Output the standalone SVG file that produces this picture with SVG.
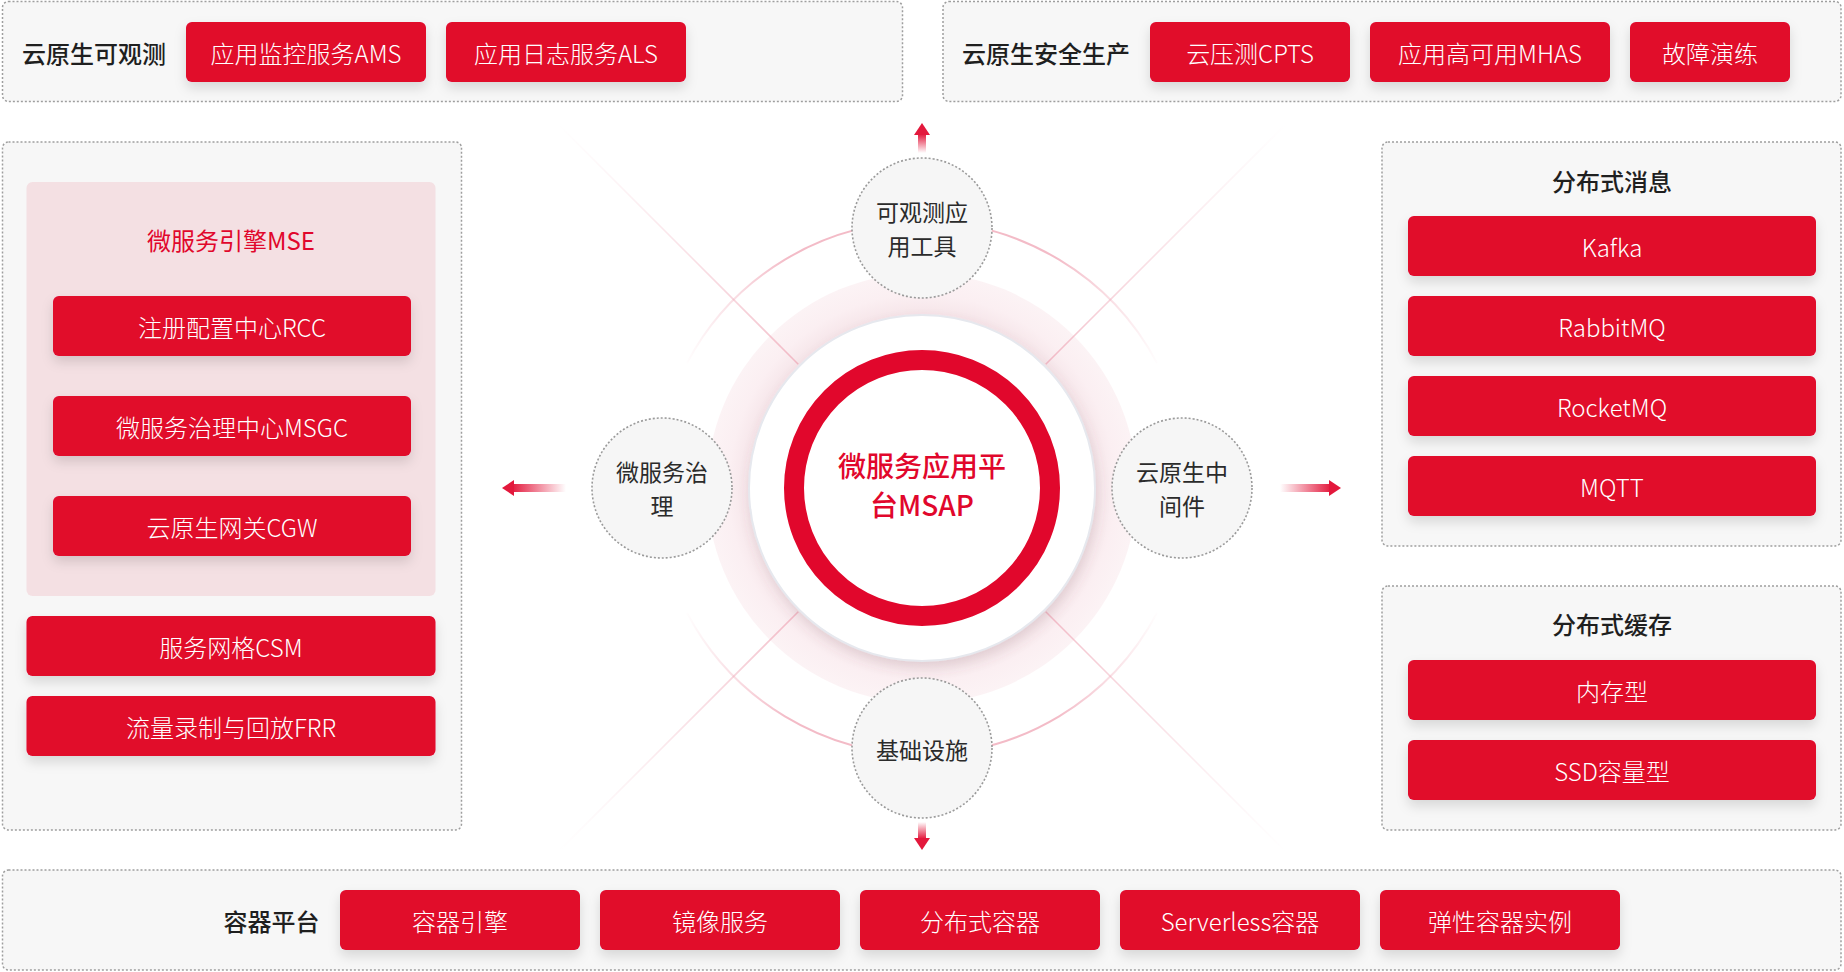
<svg xmlns="http://www.w3.org/2000/svg" width="1844" height="972" viewBox="0 0 1844 972">
<style>
text{font-family:"Noto Sans CJK SC","Noto Sans",sans-serif;dominant-baseline:central}
.box{fill:#f7f7f7;stroke:#9e9e9e;stroke-width:1.5;stroke-dasharray:2 2}
.btn{fill:#e1072c;filter:url(#sh)}
.bt{fill:#fff;font-size:24px;font-weight:300;text-anchor:middle}
.lbl{fill:#1f1f1f;font-size:24px;font-weight:500}
.ttl{fill:#1f1f1f;font-size:24px;font-weight:500;text-anchor:middle}
.sat{fill:#f6f6f6;stroke:#9a9a9a;stroke-width:1.6;stroke-dasharray:2 2}
.st{fill:#2b2b2b;font-size:23px;text-anchor:middle}
.head{fill:#e3183c}
</style>
<defs>
<filter id="sh" x="-20%" y="-40%" width="140%" height="190%">
<feDropShadow dx="0" dy="6" stdDeviation="6" flood-color="#000" flood-opacity="0.13"/>
</filter>
<filter id="dsh" x="-20%" y="-20%" width="140%" height="140%">
<feDropShadow dx="2" dy="6" stdDeviation="6" flood-color="#7a5a66" flood-opacity="0.16"/>
</filter>
<linearGradient id="shaftG" x1="0" y1="0" x2="1" y2="0">
<stop offset="0" stop-color="#e3183c" stop-opacity="0"/>
<stop offset="1" stop-color="#e3183c" stop-opacity="0.95"/>
</linearGradient>
<linearGradient id="ray" gradientUnits="userSpaceOnUse" x1="175" y1="0" x2="515" y2="0">
<stop offset="0" stop-color="#eea3b3" stop-opacity="0.7"/>
<stop offset="0.5" stop-color="#f3bcc8" stop-opacity="0.4"/>
<stop offset="1" stop-color="#f8d3dc" stop-opacity="0"/>
</linearGradient>
<linearGradient id="arcG" gradientUnits="userSpaceOnUse" x1="684" y1="0" x2="1160" y2="0">
<stop offset="0" stop-color="#f1afbd" stop-opacity="0"/>
<stop offset="0.22" stop-color="#f1afbd" stop-opacity="0.85"/>
<stop offset="0.78" stop-color="#f1afbd" stop-opacity="0.85"/>
<stop offset="1" stop-color="#f1afbd" stop-opacity="0"/>
</linearGradient>
<radialGradient id="band" cx="922" cy="488" r="215" gradientUnits="userSpaceOnUse">
<stop offset="0.8" stop-color="#f5e4e8"/>
<stop offset="0.9" stop-color="#fbeff2"/>
<stop offset="1" stop-color="#fcf3f5"/>
</radialGradient>
</defs>

<rect width="1844" height="972" fill="#ffffff"/>

<!-- containers -->
<g id="observability">
<rect class="box" x="2.5" y="1.5" width="900" height="100" rx="6"/>
<text class="lbl" x="22" y="52">云原生可观测</text>
<g id="ams"><rect class="btn" x="186" y="22" width="240" height="60" rx="6"/><text class="bt" x="306" y="52">应用监控服务AMS</text></g>
<g id="als"><rect class="btn" x="446" y="22" width="240" height="60" rx="6"/><text class="bt" x="566" y="52">应用日志服务ALS</text></g>
</g>

<g id="security">
<rect class="box" x="943" y="1.5" width="898" height="100" rx="6"/>
<text class="lbl" x="962" y="52">云原生安全生产</text>
<g id="cpts"><rect class="btn" x="1150" y="22" width="200" height="60" rx="6"/><text class="bt" x="1250" y="52">云压测CPTS</text></g>
<g id="mhas"><rect class="btn" x="1370" y="22" width="240" height="60" rx="6"/><text class="bt" x="1490" y="52">应用高可用MHAS</text></g>
<g id="drill"><rect class="btn" x="1630" y="22" width="160" height="60" rx="6"/><text class="bt" x="1710" y="52">故障演练</text></g>
</g>

<g id="governance">
<rect class="box" x="2.5" y="142" width="459" height="688" rx="6"/>
<g id="mse">
<rect x="26.5" y="182" width="409" height="414" rx="6" fill="#f4e0e3"/>
<text x="231" y="239" fill="#e1072c" font-size="24" text-anchor="middle">微服务引擎MSE</text>
<g id="rcc"><rect class="btn" x="53" y="296" width="358" height="60" rx="6"/><text class="bt" x="232" y="326">注册配置中心RCC</text></g>
<g id="msgc"><rect class="btn" x="53" y="396" width="358" height="60" rx="6"/><text class="bt" x="232" y="426">微服务治理中心MSGC</text></g>
<g id="cgw"><rect class="btn" x="53" y="496" width="358" height="60" rx="6"/><text class="bt" x="232" y="526">云原生网关CGW</text></g>
</g>
<g id="csm"><rect class="btn" x="26.5" y="616" width="409" height="60" rx="6"/><text class="bt" x="231" y="646">服务网格CSM</text></g>
<g id="frr"><rect class="btn" x="26.5" y="696" width="409" height="60" rx="6"/><text class="bt" x="231" y="726">流量录制与回放FRR</text></g>
</g>

<g id="messaging">
<rect class="box" x="1382" y="142" width="459" height="404" rx="6"/>
<text class="ttl" x="1612" y="180">分布式消息</text>
<g id="kafka"><rect class="btn" x="1408" y="216" width="408" height="60" rx="6"/><text class="bt" x="1612" y="246">Kafka</text></g>
<g id="rabbitmq"><rect class="btn" x="1408" y="296" width="408" height="60" rx="6"/><text class="bt" x="1612" y="326">RabbitMQ</text></g>
<g id="rocketmq"><rect class="btn" x="1408" y="376" width="408" height="60" rx="6"/><text class="bt" x="1612" y="406">RocketMQ</text></g>
<g id="mqtt"><rect class="btn" x="1408" y="456" width="408" height="60" rx="6"/><text class="bt" x="1612" y="486">MQTT</text></g>
</g>

<g id="cache">
<rect class="box" x="1382" y="586" width="459" height="244" rx="6"/>
<text class="ttl" x="1612" y="623">分布式缓存</text>
<g id="mem"><rect class="btn" x="1408" y="660" width="408" height="60" rx="6"/><text class="bt" x="1612" y="690">内存型</text></g>
<g id="ssd"><rect class="btn" x="1408" y="740" width="408" height="60" rx="6"/><text class="bt" x="1612" y="770">SSD容量型</text></g>
</g>

<g id="container">
<rect class="box" x="2.5" y="870" width="1838.5" height="100" rx="6"/>
<text class="lbl" x="271.5" y="920" text-anchor="middle">容器平台</text>
<g id="engine"><rect class="btn" x="340" y="890" width="240" height="60" rx="6"/><text class="bt" x="460" y="920">容器引擎</text></g>
<g id="image"><rect class="btn" x="600" y="890" width="240" height="60" rx="6"/><text class="bt" x="720" y="920">镜像服务</text></g>
<g id="dist"><rect class="btn" x="860" y="890" width="240" height="60" rx="6"/><text class="bt" x="980" y="920">分布式容器</text></g>
<g id="serverless"><rect class="btn" x="1120" y="890" width="240" height="60" rx="6"/><text class="bt" x="1240" y="920">Serverless容器</text></g>
<g id="elastic"><rect class="btn" x="1380" y="890" width="240" height="60" rx="6"/><text class="bt" x="1500" y="920">弹性容器实例</text></g>
</g>

<!-- hub -->
<g id="hub">
<path d="M 687 363 A 266 266 0 0 1 1157 363" fill="none" stroke="url(#arcG)" stroke-width="2"/>
<path d="M 687 613 A 266 266 0 0 0 1157 613" fill="none" stroke="url(#arcG)" stroke-width="2"/>
<circle cx="922" cy="488" r="215" fill="url(#band)"/>
<g transform="translate(922,488)" stroke="url(#ray)" stroke-width="1.6">
<line x1="175" y1="0" x2="515" y2="0" transform="rotate(45)"/>
<line x1="175" y1="0" x2="515" y2="0" transform="rotate(135)"/>
<line x1="175" y1="0" x2="515" y2="0" transform="rotate(225)"/>
<line x1="175" y1="0" x2="515" y2="0" transform="rotate(315)"/>
</g>
<circle cx="922" cy="488" r="173" fill="#ffffff" stroke="#e6e8ee" stroke-width="2" filter="url(#dsh)"/>
<circle cx="922" cy="488" r="128" fill="#ffffff" stroke="#e1072c" stroke-width="20"/>
<text x="922" y="465" fill="#e1072c" font-size="28" font-weight="500" text-anchor="middle">微服务应用平</text>
<text x="922" y="504" fill="#e1072c" font-size="28" font-weight="500" text-anchor="middle">台MSAP</text>
</g>

<!-- connectors -->
<g id="connectors">
<g transform="translate(922,153) rotate(-90)"><rect x="0" y="-4" width="18" height="8" fill="url(#shaftG)"/><polygon class="head" points="18,-8 30,0 18,8"/></g>
<g transform="translate(922,822) rotate(90)"><rect x="0" y="-4" width="16" height="8" fill="url(#shaftG)"/><polygon class="head" points="16,-8 28,0 16,8"/></g>
<g transform="translate(566,488) rotate(180)"><rect x="0" y="-4" width="52" height="8" fill="url(#shaftG)"/><polygon class="head" points="52,-8 64,0 52,8"/></g>
<g transform="translate(1280,488)"><rect x="0" y="-4" width="49" height="8" fill="url(#shaftG)"/><polygon class="head" points="49,-8 61,0 49,8"/></g>
</g>

<!-- satellites -->
<g id="obs-tools">
<circle class="sat" cx="922" cy="228" r="70"/>
<text class="st" x="922" y="211">可观测应</text>
<text class="st" x="922" y="245">用工具</text>
</g>
<g id="ms-gov">
<circle class="sat" cx="662" cy="488" r="70"/>
<text class="st" x="662" y="471">微服务治</text>
<text class="st" x="662" y="505">理</text>
</g>
<g id="middleware">
<circle class="sat" cx="1182" cy="488" r="70"/>
<text class="st" x="1182" y="471">云原生中</text>
<text class="st" x="1182" y="505">间件</text>
</g>
<g id="infra">
<circle class="sat" cx="922" cy="748" r="70"/>
<text class="st" x="922" y="749">基础设施</text>
</g>
</svg>
